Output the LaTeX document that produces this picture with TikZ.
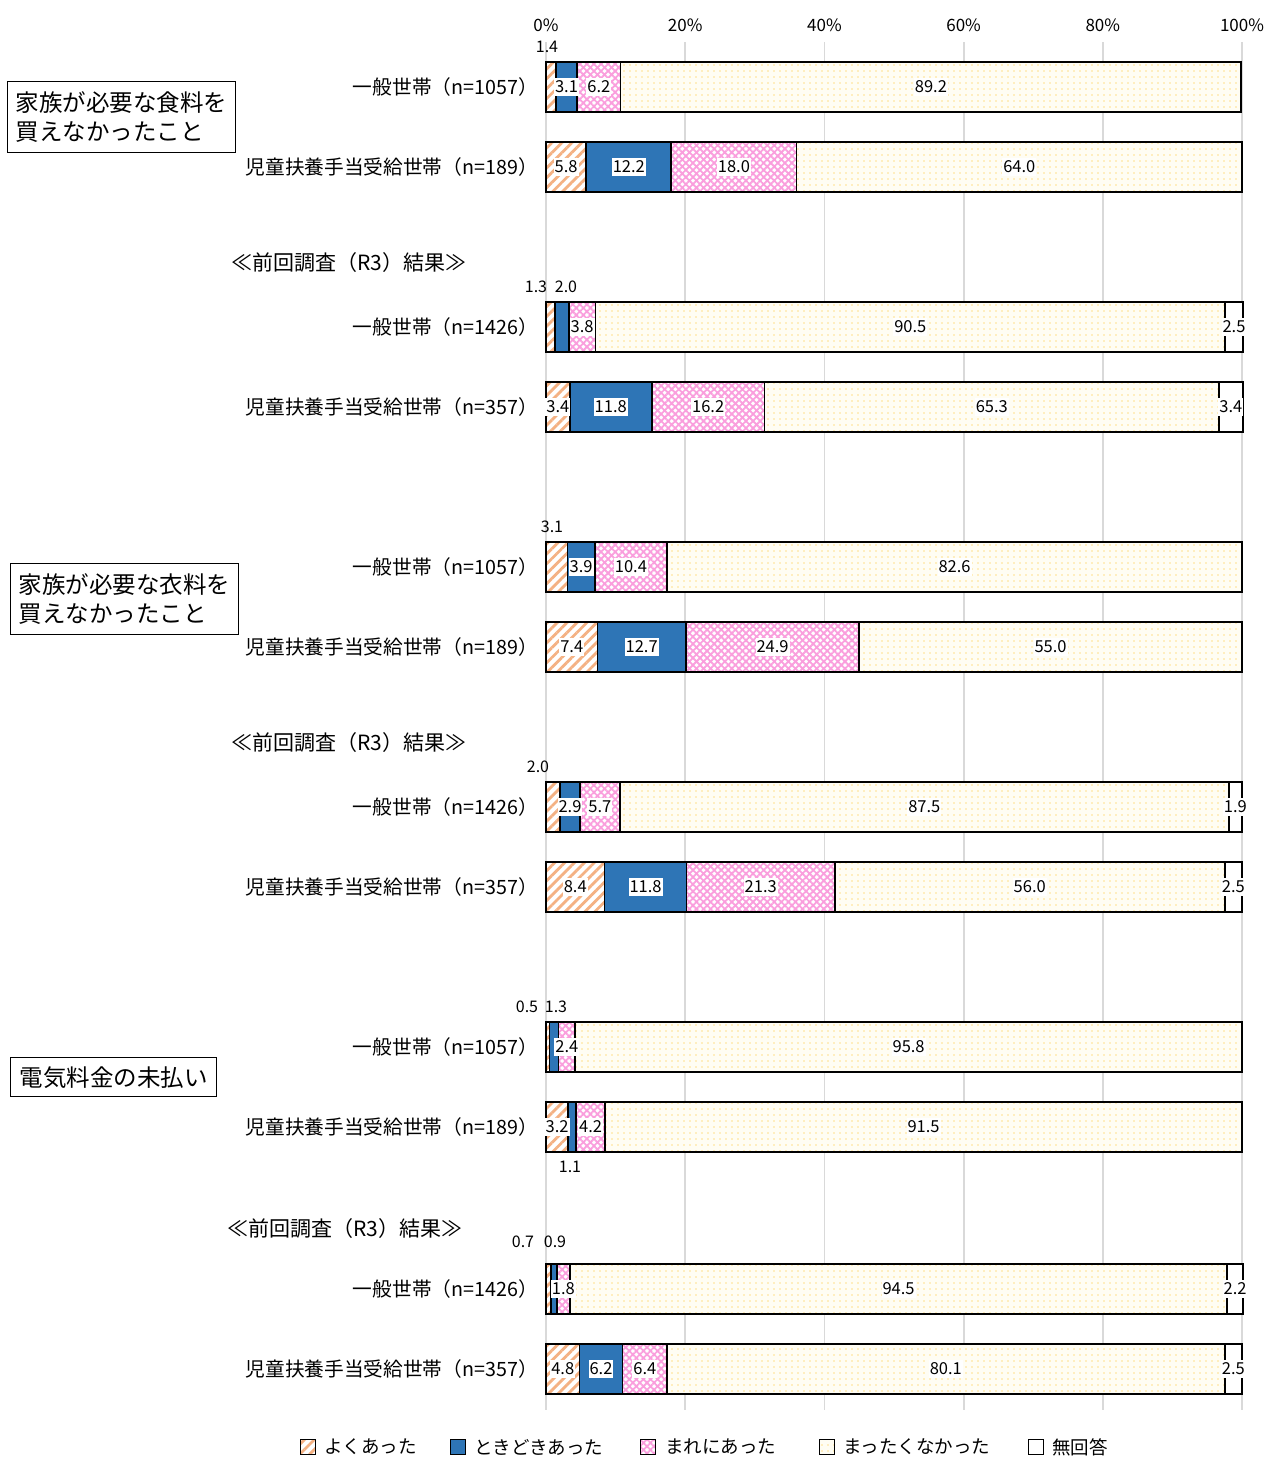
\documentclass[tikz,border=0pt]{standalone}
\usepackage{fontspec}
\setmainfont{Noto Sans CJK JP}
\usetikzlibrary{patterns.meta}
\definecolor{cOr}{HTML}{F4B183}
\definecolor{cBl}{HTML}{2E75B6}
\definecolor{cPk}{HTML}{FA9EDD}
\definecolor{cYe}{HTML}{FFE08A}
\definecolor{cYbg}{HTML}{FFFDF3}
\definecolor{cGr}{HTML}{D9D9D9}
\tikzset{
 s1/.style={preaction={fill=white}, pattern={Lines[angle=45,distance=7pt,line width=2.8pt]}, pattern color=cOr},
 s2/.style={fill=cBl},
 s3/.style={preaction={fill=white}, pattern={Hatch[angle=45,distance=5pt,line width=1.8pt]}, pattern color=cPk},
 s4/.style={preaction={fill=cYbg}, pattern={Dots[distance=6pt,radius=0.9pt]}, pattern color=cYe},
 s5/.style={fill=white},
 segline/.style={draw=black, line width=1.8pt},
 grid/.style={draw=cGr, line width=1.8pt},
 lab/.style={fill=white, inner xsep=1pt, inner ysep=3pt, font=\fontsize{16.5}{16.5}\selectfont},
 olab/.style={inner sep=1pt, font=\fontsize{16}{16}\selectfont},
 axl/.style={inner sep=0pt, font=\fontsize{17}{17}\selectfont},
 cat/.style={anchor=east, inner sep=0pt, font=\fontsize{19.7}{20}\selectfont},
 head/.style={inner sep=0pt, font=\fontsize{21}{21}\selectfont},
 tbox/.style={draw=black, line width=1.3pt, align=left, anchor=north west, inner xsep=8pt, inner ysep=0pt, font=\fontsize{23.5}{29.5}\selectfont},
 legsq/.style={draw=black, line width=1.2pt, minimum size=15pt, inner sep=0pt},
 legt/.style={anchor=west, inner sep=0pt, font=\fontsize{18.5}{19}\selectfont},
}
\newcommand\drawbar[6]{%
 \pgfmathsetmacro\xa{546}%
 \pgfmathsetmacro\xb{\xa+6.96*#2}%
 \pgfmathsetmacro\xc{\xb+6.96*#3}%
 \pgfmathsetmacro\xd{\xc+6.96*#4}%
 \pgfmathsetmacro\xe{\xd+6.96*#5}%
 \pgfmathsetmacro\xf{\xe+6.96*#6}%
 \pgfmathsetmacro\yt{#1-25}%
 \pgfmathsetmacro\yb{#1+25}%
 \pgfmathsetmacro\ca{(\xa+\xb)/2}%
 \pgfmathsetmacro\cb{(\xb+\xc)/2}%
 \pgfmathsetmacro\cc{(\xc+\xd)/2}%
 \pgfmathsetmacro\cd{(\xd+\xe)/2}%
 \pgfmathsetmacro\ce{(\xe+\xf)/2}%
 \path[s1] (\xa,\yt) rectangle (\xb,\yb);
 \path[s2] (\xb,\yt) rectangle (\xc,\yb);
 \path[s3] (\xc,\yt) rectangle (\xd,\yb);
 \path[s4] (\xd,\yt) rectangle (\xe,\yb);
 \path[s5] (\xe,\yt) rectangle (\xf,\yb);
 \draw[segline] (\xb,\yt) -- (\xb,\yb) (\xc,\yt) -- (\xc,\yb) (\xd,\yt) -- (\xd,\yb) (\xe,\yt) -- (\xe,\yb);
 \draw[segline] (\xa,\yt) rectangle (\xf,\yb);
}
\begin{document}
\begin{tikzpicture}[x=1pt,y=-1pt]
\useasboundingbox (0,0) rectangle (1267,1457);
\fill[white] (0,0) rectangle (1267,1457);
% grid
\foreach \p in {0,20,40,60,80,100}{
 \draw[grid] ({546+6.96*\p},42) -- ({546+6.96*\p},1410);
 \node[axl] (ax\p) at ({546+6.96*\p},25) {\p\%};
}
% category boxes
\node[tbox, minimum width=227pt, minimum height=71pt] (box1) at (7,81) {家族が必要な食料を\\買えなかったこと};
\node[tbox, minimum width=226pt, minimum height=71pt] (box2) at (10,563) {家族が必要な衣料を\\買えなかったこと};
\node[tbox, minimum width=206pt, minimum height=39pt] (box3) at (10,1057) {電気料金の未払い};
% headings
\node[head] (h1) at (349,263) {≪前回調査（R3）結果≫};
\node[head] (h2) at (349,743) {≪前回調査（R3）結果≫};
\node[head] (h3) at (345,1229) {≪前回調査（R3）結果≫};
% category labels
\node[cat] (c1) at (538,87) {一般世帯（n=1057）};
\node[cat] (c2) at (538,167) {児童扶養手当受給世帯（n=189）};
\node[cat] (c3) at (538,327) {一般世帯（n=1426）};
\node[cat] (c4) at (538,407) {児童扶養手当受給世帯（n=357）};
\node[cat] (c5) at (538,567) {一般世帯（n=1057）};
\node[cat] (c6) at (538,647) {児童扶養手当受給世帯（n=189）};
\node[cat] (c7) at (538,807) {一般世帯（n=1426）};
\node[cat] (c8) at (538,887) {児童扶養手当受給世帯（n=357）};
\node[cat] (c9) at (538,1047) {一般世帯（n=1057）};
\node[cat] (c10) at (538,1127) {児童扶養手当受給世帯（n=189）};
\node[cat] (c11) at (538,1289) {一般世帯（n=1426）};
\node[cat] (c12) at (538,1369) {児童扶養手当受給世帯（n=357）};
% bar 1
\drawbar{87}{1.4}{3.1}{6.2}{89.2}{0}
\node[lab] (b1b) at (\cb,87) {3.1};
\node[lab] (b1c) at (\cc,87) {6.2};
\node[lab] (b1d) at (\cd,87) {89.2};
\node[olab] (b1a) at (547,47) {1.4};
% bar 2
\drawbar{167}{5.8}{12.2}{18.0}{64.0}{0}
\node[lab] (b2a) at (\ca,167) {5.8};
\node[lab] (b2b) at (\cb,167) {12.2};
\node[lab] (b2c) at (\cc,167) {18.0};
\node[lab] (b2d) at (\cd,167) {64.0};
% bar 3
\drawbar{327}{1.3}{2.0}{3.8}{90.5}{2.5}
\node[lab] (b3c) at (\cc,327) {3.8};
\node[lab] (b3d) at (\cd,327) {90.5};
\node[lab] (b3e) at (\ce,327) {2.5};
\node[olab] (b3a) at (536,287) {1.3};
\node[olab] (b3b) at (566,287) {2.0};
% bar 4
\drawbar{407}{3.4}{11.8}{16.2}{65.3}{3.4}
\node[lab] (b4a) at (\ca,407) {3.4};
\node[lab] (b4b) at (\cb,407) {11.8};
\node[lab] (b4c) at (\cc,407) {16.2};
\node[lab] (b4d) at (\cd,407) {65.3};
\node[lab] (b4e) at (\ce,407) {3.4};
% bar 5
\drawbar{567}{3.1}{3.9}{10.4}{82.6}{0}
\node[lab] (b5b) at (\cb,567) {3.9};
\node[lab] (b5c) at (\cc,567) {10.4};
\node[lab] (b5d) at (\cd,567) {82.6};
\node[olab] (b5a) at (552,527) {3.1};
% bar 6
\drawbar{647}{7.4}{12.7}{24.9}{55.0}{0}
\node[lab] (b6a) at (\ca,647) {7.4};
\node[lab] (b6b) at (\cb,647) {12.7};
\node[lab] (b6c) at (\cc,647) {24.9};
\node[lab] (b6d) at (\cd,647) {55.0};
% bar 7
\drawbar{807}{2.0}{2.9}{5.7}{87.5}{1.9}
\node[lab] (b7b) at (\cb,807) {2.9};
\node[lab] (b7c) at (\cc,807) {5.7};
\node[lab] (b7d) at (\cd,807) {87.5};
\node[lab] (b7e) at (\ce,807) {1.9};
\node[olab] (b7a) at (538,767) {2.0};
% bar 8
\drawbar{887}{8.4}{11.8}{21.3}{56.0}{2.5}
\node[lab] (b8a) at (\ca,887) {8.4};
\node[lab] (b8b) at (\cb,887) {11.8};
\node[lab] (b8c) at (\cc,887) {21.3};
\node[lab] (b8d) at (\cd,887) {56.0};
\node[lab] (b8e) at (\ce,887) {2.5};
% bar 9
\drawbar{1047}{0.5}{1.3}{2.4}{95.8}{0}
\node[lab] (b9c) at (\cc,1047) {2.4};
\node[lab] (b9d) at (\cd,1047) {95.8};
\node[olab] (b9a) at (527,1007) {0.5};
\node[olab] (b9b) at (556,1007) {1.3};
% bar 10
\drawbar{1127}{3.2}{1.1}{4.2}{91.5}{0}
\node[lab] (b10a) at (\ca,1127) {3.2};
\node[lab] (b10c) at (\cc,1127) {4.2};
\node[lab] (b10d) at (\cd,1127) {91.5};
\node[olab] (b10b) at (570,1167) {1.1};
% bar 11
\drawbar{1289}{0.7}{0.9}{1.8}{94.5}{2.2}
\node[lab] (b11c) at (\cc,1289) {1.8};
\node[lab] (b11d) at (\cd,1289) {94.5};
\node[lab] (b11e) at (\ce,1289) {2.2};
\node[olab] (b11a) at (523,1242) {0.7};
\node[olab] (b11b) at (555,1242) {0.9};
% bar 12
\drawbar{1369}{4.8}{6.2}{6.4}{80.1}{2.5}
\node[lab] (b12a) at (\ca,1369) {4.8};
\node[lab] (b12b) at (\cb,1369) {6.2};
\node[lab] (b12c) at (\cc,1369) {6.4};
\node[lab] (b12d) at (\cd,1369) {80.1};
\node[lab] (b12e) at (\ce,1369) {2.5};
% legend
\node[legsq, s1] (q1) at (308,1447) {};
\node[legt] (t1) at (324,1447) {よくあった};
\node[legsq, s2] (q2) at (458,1447) {};
\node[legt] (t2) at (474,1447) {ときどきあった};
\node[legsq, s3] (q3) at (648,1447) {};
\node[legt] (t3) at (665,1447) {まれにあった};
\node[legsq, s4] (q4) at (827,1447) {};
\node[legt] (t4) at (843,1447) {まったくなかった};
\node[legsq, s5] (q5) at (1036,1447) {};
\node[legt] (t5) at (1052,1447) {無回答};
\end{tikzpicture}
\end{document}
